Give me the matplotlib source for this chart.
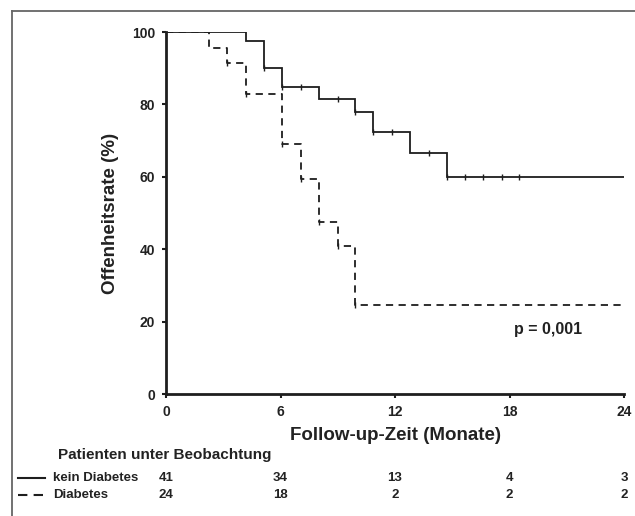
import numpy as np
import matplotlib
matplotlib.use("Agg")
import matplotlib.pyplot as plt
from matplotlib.lines import Line2D
import matplotlib.transforms as mtransforms

plt.rcParams['font.family'] = ['Liberation Sans', 'DejaVu Sans']

# ---- data ----
solid_t = [0, 4.2, 5.15, 6.1, 8.0, 9.9, 10.85, 12.8, 14.7, 24]
solid_s = [100, 97.6, 90.0, 84.9, 81.5, 78.0, 72.5, 66.5, 59.9, 59.9]
solid_cens = [5.15, 6.1, 7.05, 9.0, 9.9, 10.85, 11.85, 13.8, 14.7, 15.65, 16.6, 17.6, 18.5]

dash_t = [0, 2.25, 3.2, 4.2, 6.1, 7.05, 8.0, 9.0, 9.9, 24]
dash_s = [100, 95.7, 91.5, 82.9, 69.1, 59.3, 47.4, 41.0, 24.5, 24.5]
dash_cens = [3.2, 4.2, 6.1, 7.05, 8.0, 9.0, 9.9]

xticks = [0, 6, 12, 18, 24]
yticks = [0, 20, 40, 60, 80, 100]
risk_groups = ["kein Diabetes", "Diabetes"]
risk_kein = [41, 34, 13, 4, 3]
risk_diab = [24, 18, 2, 2, 2]
p_text = "p = 0,001"

def step_val(ts, ss, x):
    idx = np.searchsorted(ts, x, side='right') - 1
    return ss[idx]

fig = plt.figure(figsize=(6.35, 5.16), dpi=100)
ax = fig.add_axes([166/635, 1-394/516, (624-166)/635, (394-32)/516])

col = '#1e1e1e'
tcol = '#222222'
ax.step(solid_t, solid_s, where='post', color=col, lw=1.3, solid_joinstyle='miter')
ax.step(dash_t, dash_s, where='post', color=col, lw=1.3, linestyle=(0, (4, 3)))
ax.plot(solid_cens, [step_val(solid_t, solid_s, c) for c in solid_cens], ls='none',
        marker='|', ms=5, mew=1.0, color=col)
ax.plot(dash_cens, [step_val(dash_t, dash_s, c) for c in dash_cens], ls='none',
        marker='|', ms=5, mew=1.0, color=col)

ax.set_xlim(0, 24)
ax.set_ylim(0, 100)
ax.set_xticks(xticks)
ax.set_yticks(yticks)
for s in ['top', 'right']:
    ax.spines[s].set_visible(False)
for s in ['left', 'bottom']:
    ax.spines[s].set_linewidth(2.0)
    ax.spines[s].set_color(col)
    ax.spines[s].set_capstyle('projecting')
ax.tick_params(axis='y', length=3, width=1.5, color=col, labelsize=10,
               labelcolor=tcol, pad=5)
ax.tick_params(axis='x', length=3, width=1.5, color=col, labelsize=10,
               labelcolor=tcol, pad=5)
for lab in ax.get_xticklabels() + ax.get_yticklabels():
    lab.set_fontweight('bold')

ax.set_ylabel("Offenheitsrate (%)", fontsize=13.5, fontweight='bold', color=tcol, labelpad=9)
ax.set_xlabel("Follow-up-Zeit (Monate)", fontsize=13.5, fontweight='bold', color=tcol, labelpad=6)

ax.text(20.0, 17.7, p_text, fontsize=11.5, fontweight='bold', ha='center', va='center', color=tcol)

# risk table
trans = mtransforms.blended_transform_factory(ax.transData, fig.transFigure)
fig.text(58/635, 1-455/516, "Patienten unter Beobachtung", fontsize=11, fontweight='bold',
         ha='left', va='center', color=tcol)
rows_y = [1-478/516, 1-495/516]
for yy, name, vals, ls in zip(rows_y, risk_groups, [risk_kein, risk_diab], ['-', (0, (4.5, 3))]):
    fig.add_artist(Line2D([18/635, 45/635], [yy, yy], color=col, lw=1.5, linestyle=ls))
    fig.text(53/635, yy, name, fontsize=9.5, fontweight='bold', ha='left', va='center', color=tcol)
    for xv, v in zip(xticks, vals):
        fig.text(xv, yy, str(v), transform=trans, fontsize=9.5, fontweight='bold',
                 ha='center', va='center', color=tcol)

# frame
fig.add_artist(Line2D([12/635, 12/635], [0, 1-11/516], color='#666666', lw=1.3))
fig.add_artist(Line2D([12/635, 1], [1-11/516, 1-11/516], color='#666666', lw=1.3))

fig.savefig("out.png", dpi=100)
